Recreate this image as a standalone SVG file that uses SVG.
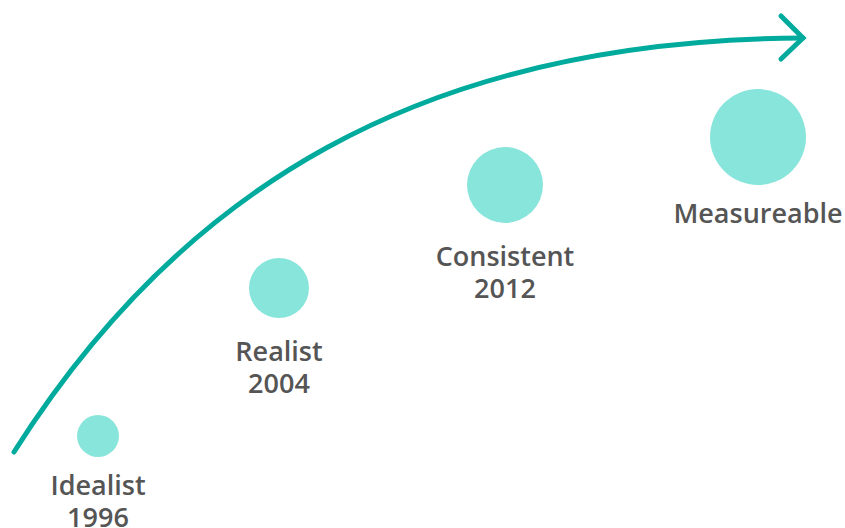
<svg xmlns="http://www.w3.org/2000/svg" width="845" height="528" viewBox="0 0 845 528">
<style>
.dot{fill:#88E5DB}
.lbl{font-family:"Open Sans","Noto Sans",sans-serif;font-weight:600;font-size:27px;fill:#555555;text-anchor:middle}
.arc{fill:none;stroke:#00AB9D;stroke-width:5;stroke-linecap:round;stroke-linejoin:miter}
</style>
<g id="connectors">
<path class="arc" d="M14,452 C180,190 420,40 803,38"/>
<path class="arc" d="M781,16 L803,38 L781,59"/>
</g>
<g id="idealist"><circle class="dot" cx="98" cy="436" r="21"/><text class="lbl" x="98" y="495">Idealist</text><text class="lbl" x="98" y="527">1996</text></g>
<g id="realist"><circle class="dot" cx="279" cy="288" r="30"/><text class="lbl" x="279" y="361">Realist</text><text class="lbl" x="279" y="393">2004</text></g>
<g id="consistent"><circle class="dot" cx="505" cy="185" r="38"/><text class="lbl" x="505" y="266">Consistent</text><text class="lbl" x="505" y="298">2012</text></g>
<g id="measureable"><circle class="dot" cx="758" cy="137" r="48"/><text class="lbl" x="758" y="223">Measureable</text></g>
</svg>
